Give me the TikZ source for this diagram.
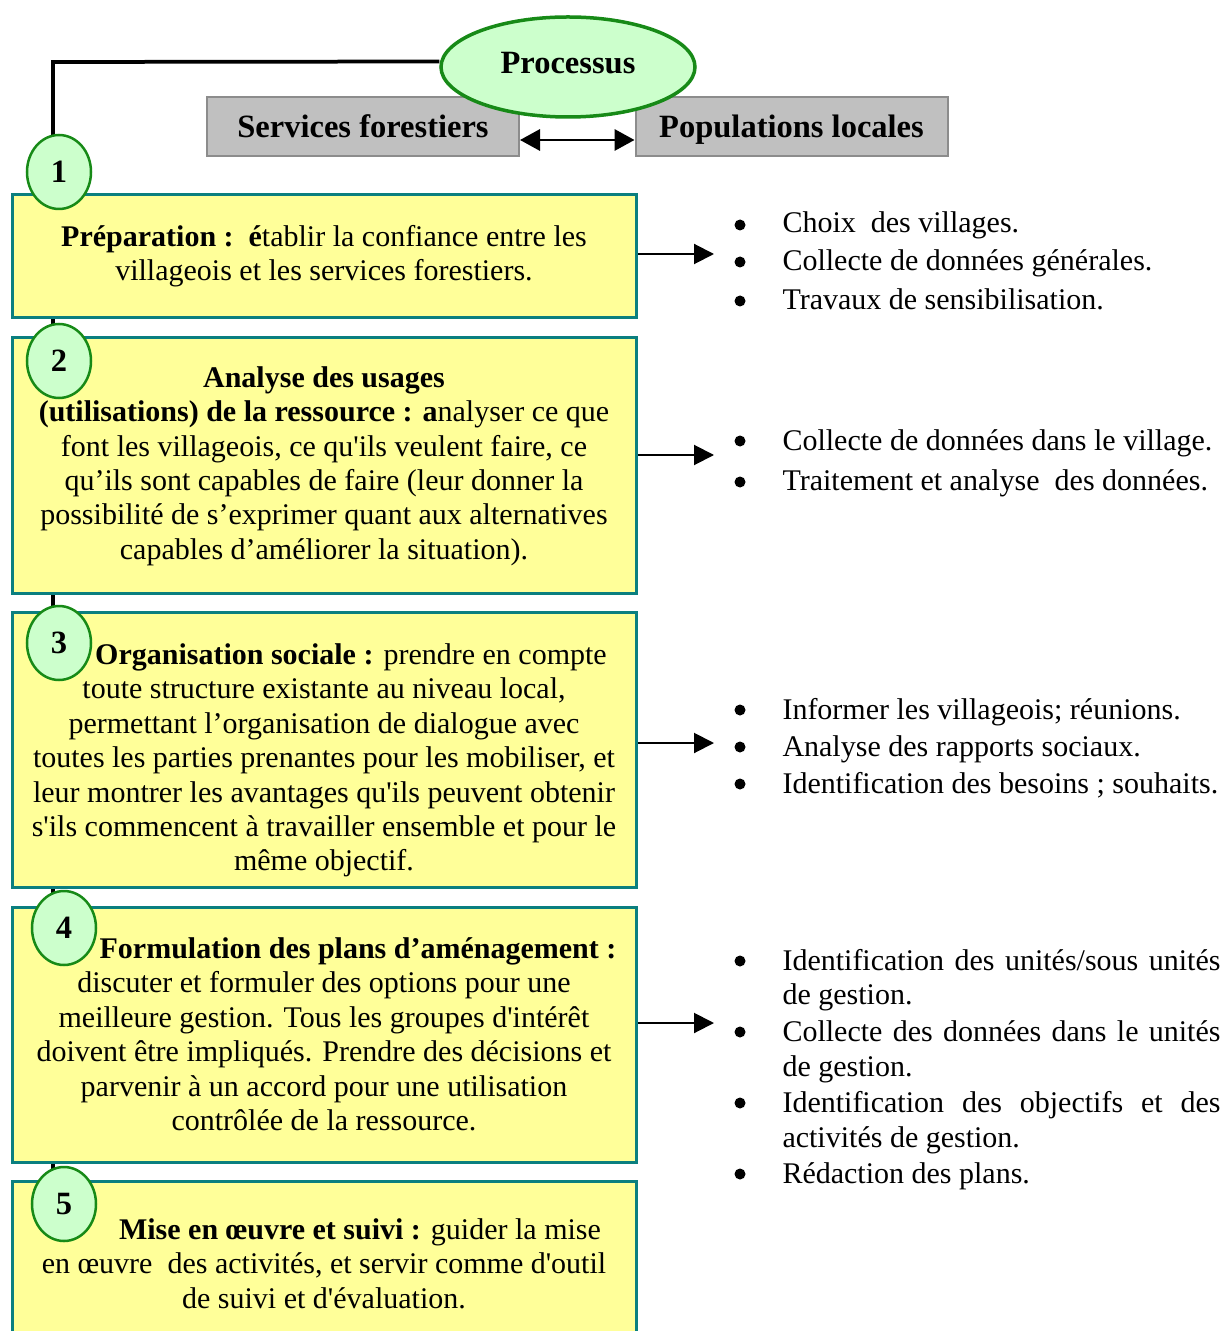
\documentclass[tikz,border=0pt]{standalone}
\usepackage{fontspec}
\setmainfont{Liberation Serif}[Ligatures=TeXOff]
\usetikzlibrary{arrows.meta,shapes.geometric}
\definecolor{boxyellow}{HTML}{FFFF99}
\definecolor{boxteal}{HTML}{0B7F7F}
\definecolor{ovalfill}{HTML}{CCFFCC}
\definecolor{ovalline}{HTML}{178A17}
\definecolor{grayfill}{HTML}{C0C0C0}
\definecolor{grayline}{HTML}{8C8C8C}
\begin{document}
\begin{tikzpicture}[x=0.4pt,y=-0.4pt,
  body/.style={font=\fontsize{12pt}{13.76pt}\selectfont, inner sep=0pt, align=center},
  itemtext/.style={font=\fontsize{12pt}{13.76pt}\selectfont, inner sep=0pt, anchor=base west},
  stepbox/.style={rectangle, draw=boxteal, line width=1.2pt, fill=boxyellow, inner sep=0pt, minimum width=249.6pt},
  numoval/.style={ellipse, draw=ovalline, fill=ovalfill, line width=1pt, minimum width=25.6pt, minimum height=29.6pt, inner sep=0pt, font=\fontsize{13pt}{14pt}\selectfont\bfseries},
  graybox/.style={rectangle, draw=grayline, fill=grayfill, line width=0.8pt, minimum width=124.8pt, minimum height=23.6pt, inner sep=0pt, text height=11.4pt, text depth=2.6pt, font=\fontsize{13pt}{14pt}\selectfont\bfseries},
  procoval/.style={ellipse, draw=ovalline, fill=ovalfill, line width=1.4pt, minimum width=101.6pt, minimum height=40pt, inner sep=0pt, font=\fontsize{13pt}{14pt}\selectfont\bfseries},
  linkline/.style={line width=1.5pt, black},
  arr/.style={line width=0.8pt, -{Triangle[length=8pt,width=8pt]}},
  dblarr/.style={line width=1pt, {Triangle[length=8pt,width=8.5pt]}-{Triangle[length=8pt,width=8.5pt]}},
  bullet/.style={fill=black}
]
\useasboundingbox (0,0) rectangle (1222,1331);
\clip (0,0) rectangle (1222,1331);

% coordinates of the process line
\coordinate (lineBottom) at (53,1185);
\coordinate (lineCorner) at (53,62);

% grey boxes and process oval
\node[graybox] (sf) at (363,126.5) {Services forestiers};
\node[graybox] (pl) at (791.5,126.5) {Populations locales};
\node[procoval] (proc) at (568,67) {\raisebox{3.2pt}{Processus}};

% main vertical line
\draw[linkline] (lineBottom) -- (lineCorner) -- ([yshift=2.2pt]proc.west);

% double arrow
\coordinate (dblY) at (577,140);
\draw[dblarr] (sf.east |- dblY) -- (pl.west |- dblY);

% step boxes
\node[stepbox, minimum height=49.2pt] (b1) at (324.5,256.5) {};
\node[stepbox, minimum height=102pt] (b2) at (324.5,465.5) {};
\node[stepbox, minimum height=110pt] (b3) at (324.5,749.5) {};
\node[stepbox, minimum height=102pt] (b4) at (324.5,1034.5) {};
\node[stepbox, minimum height=66pt] (b5) at (324.5,1263.5) {};

% numbered ovals
\node[numoval] (n1) at (59,172) {1};
\node[numoval] (n2) at (59,361) {2};
\node[numoval] (n3) at (59,643) {3};
\node[numoval] (n4) at (64,928) {4};
\node[numoval] (n5) at (64,1204) {5};

% box texts
\node[body] (t1) at (324,256) {\textbf{Préparation :\ \ é}tablir la confiance entre les\\villageois et les services forestiers.};
\node[body] (t2) at (324,466) {\textbf{Analyse des usages}\\\textbf{(utilisations) de la ressource : a}nalyser ce que\\font les villageois, ce qu'ils veulent faire, ce\\qu’ils sont capables de faire (leur donner la\\possibilité de s’exprimer quant aux alternatives\\capables d’améliorer la situation).};
\node[body] (t3) at (324,760.5) {\hspace*{21.6pt}\textbf{Organisation sociale :} prendre en compte\\toute structure existante au niveau local,\\permettant l’organisation de dialogue avec\\toutes les parties prenantes pour les mobiliser, et\\leur montrer les avantages qu'ils peuvent obtenir\\s'ils commencent à travailler ensemble et pour le\\même objectif.};
\node[body] (t4) at (324,1034.3) {\hspace*{27.2pt}\textbf{Formulation des plans d’aménagement :}\\discuter et formuler des options pour une\\meilleure gestion. Tous les groupes d'intérêt\\doivent être impliqués. Prendre des décisions et\\parvenir à un accord pour une utilisation\\contrôlée de la ressource.};
\node[body] (t5) at (324,1263.5) {\hspace*{28.8pt}\textbf{Mise en œuvre et suivi :} guider la mise\\en œuvre\ \ des activités, et servir comme d'outil\\de suivi et d'évaluation.};

% arrow tips
\coordinate (a1) at (714,254);
\coordinate (a2) at (714,455);
\coordinate (a3) at (714,743);
\coordinate (a4) at (714,1023);
\draw[arr] (b1.east |- a1) -- (a1);
\draw[arr] (b2.east |- a2) -- (a2);
\draw[arr] (b3.east |- a3) -- (a3);
\draw[arr] (b4.east |- a4) -- (a4);

% bullet lists
\foreach \yy in {225,262,301,441,482,710,747,784,961,1032,1103,1174}
  \fill[bullet] (740,\yy) circle[radius=2.2pt];

\node[itemtext] (l11) at (782,233) {Choix\ \ des villages.};
\node[itemtext] (l12) at (782,271) {Collecte de données générales.};
\node[itemtext] (l13) at (782,310) {Travaux de sensibilisation.};

\node[itemtext] (l21) at (782,450) {Collecte de données dans le village.};
\node[itemtext] (l22) at (782,490) {Traitement et analyse\ \ des données.};

\node[itemtext] (l31) at (782,719) {Informer les villageois; réunions.};
\node[itemtext] (l32) at (782,756) {Analyse des rapports sociaux.};
\node[itemtext] (l33) at (782,793) {Identification des besoins ; souhaits.};

\node[itemtext] (l41) at (782,970) {\makebox[175.2pt][s]{Identification des unités/sous unités}};
\node[itemtext] (l42) at (782,1004) {de gestion.};
\node[itemtext] (l43) at (782,1041) {\makebox[175.2pt][s]{Collecte des données dans le unités}};
\node[itemtext] (l44) at (782,1076) {de gestion.};
\node[itemtext] (l45) at (782,1112) {\makebox[175.2pt][s]{Identification des objectifs et des}};
\node[itemtext] (l46) at (782,1147) {activités de gestion.};
\node[itemtext] (l47) at (782,1183) {Rédaction des plans.};
\end{tikzpicture}
\end{document}
